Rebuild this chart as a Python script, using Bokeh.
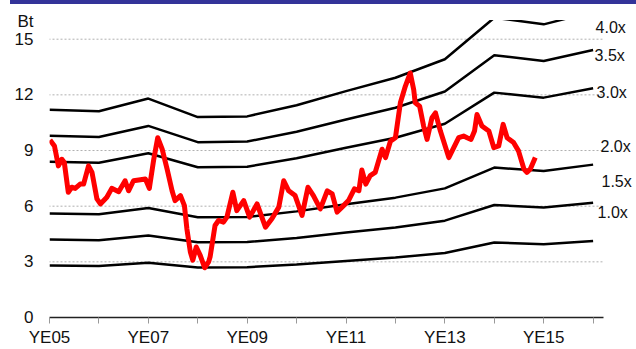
from bokeh.plotting import figure
from bokeh.models import Range1d, FixedTicker, Label, Div
from bokeh.layouts import column
from bokeh.embed import file_html
from bokeh.resources import INLINE

# ---- data ----
years = [2005, 2006, 2007, 2008, 2009, 2010, 2011, 2012, 2013, 2014, 2015, 2016]
bvps = [2.80, 2.78, 2.95, 2.70, 2.71, 2.86, 3.05, 3.23, 3.48, 4.04, 3.95, 4.12]
multiples = [1.0, 1.5, 2.0, 3.0, 3.5, 4.0]
band_labels = ["1.0x", "1.5x", "2.0x", "3.0x", "3.5x", "4.0x"]
band_label_x = [2016.09, 2016.17, 2016.15, 2016.07, 2016.03, 2016.05]
band_label_y = [5.66, 7.33, 9.20, 12.12, 14.14, 15.64]

price_x = [2005.01, 2005.10, 2005.18, 2005.25, 2005.30, 2005.38, 2005.45, 2005.52,
           2005.62, 2005.69, 2005.79, 2005.86, 2005.96, 2006.03, 2006.16, 2006.26,
           2006.40, 2006.53, 2006.60, 2006.70, 2006.84, 2006.94, 2007.02, 2007.11,
           2007.19, 2007.28, 2007.38, 2007.48, 2007.54, 2007.65, 2007.73, 2007.78,
           2007.85, 2007.90, 2007.97, 2008.05, 2008.14, 2008.22, 2008.25, 2008.35,
           2008.42, 2008.52, 2008.59, 2008.71, 2008.79, 2008.93, 2009.05, 2009.20,
           2009.37, 2009.50, 2009.64, 2009.74, 2009.84, 2009.97, 2010.11, 2010.23,
           2010.34, 2010.48, 2010.62, 2010.72, 2010.82, 2010.95, 2011.05, 2011.17,
           2011.26, 2011.32, 2011.40, 2011.49, 2011.59, 2011.73, 2011.80, 2011.90,
           2012.00, 2012.10, 2012.20, 2012.30, 2012.37, 2012.40, 2012.49, 2012.57,
           2012.64, 2012.74, 2012.81, 2012.91, 2013.08, 2013.18, 2013.28, 2013.38,
           2013.45, 2013.53, 2013.60, 2013.65, 2013.75, 2013.89, 2013.99, 2014.09,
           2014.18, 2014.26, 2014.39, 2014.49, 2014.60, 2014.66, 2014.73, 2014.83]
price_y = [9.57, 9.25, 8.17, 8.53, 8.35, 6.75, 7.02, 6.96,
           7.19, 7.19, 8.17, 7.82, 6.39, 6.12, 6.48, 6.96,
           6.78, 7.37, 6.83, 7.37, 7.42, 7.46, 6.96, 8.53,
           9.69, 9.07, 8.00, 6.83, 6.30, 6.57, 6.03, 4.78,
           3.53, 3.09, 3.80, 3.35, 2.68, 3.00, 3.27, 4.96,
           5.23, 5.14, 5.41, 6.75, 5.76, 6.30, 5.41, 6.12,
           4.87, 5.32, 5.95, 7.37, 6.83, 6.57, 5.50, 7.02,
           6.57, 5.85, 6.83, 6.66, 5.68, 6.03, 6.30, 6.93,
           6.83, 7.95, 7.19, 7.65, 7.82, 9.07, 8.62, 9.51,
           9.69, 11.57, 12.46, 13.18, 12.28, 11.57, 11.39, 10.32,
           9.60, 10.77, 11.03, 10.05, 8.62, 9.16, 9.69, 9.78,
           9.69, 9.60, 10.05, 10.94, 10.32, 10.05, 9.16, 9.25,
           10.41, 9.69, 9.43, 8.98, 8.00, 7.82, 8.00, 8.62]

y_ticks = [0, 3, 6, 9, 12, 15]
unit_label = "Bt"
unit_label_y = 15.94
x_ticks = years
x_tick_labels = {2005: "YE05", 2006: "", 2007: "YE07", 2008: "", 2009: "YE09", 2010: "",
                 2011: "YE11", 2012: "", 2013: "YE13", 2014: "", 2015: "YE15", 2016: ""}

# extents (data units)
X_AXIS_START, X_AXIS_END = 2005.0, 2016.21
Y_MAX = 16.03          # top of plotting area (lines are cut here)
X_VIEW = (2005.0, 2016.878)
Y_VIEW = (0.0, 16.87)

FONT = "Liberation Sans"
TXT = "#111111"

p = figure(width=636, height=345, output_backend="svg", toolbar_location=None,
           x_range=Range1d(*X_VIEW), y_range=Range1d(*Y_VIEW),
           min_border_left=49, min_border_right=0, min_border_top=0,
           min_border_bottom=30)
p.outline_line_color = None
p.background_fill_color = "white"
p.border_fill_color = "white"
p.grid.visible = False

# y axis (no line / ticks, just labels; unit label on top)
p.yaxis.ticker = FixedTicker(ticks=y_ticks + [unit_label_y])
p.yaxis.major_label_overrides = {unit_label_y: unit_label}
p.yaxis.axis_line_color = None
p.yaxis.major_tick_line_color = None
p.yaxis.minor_tick_line_color = None
p.yaxis.major_tick_out = 0
p.yaxis.major_tick_in = 0
p.yaxis.major_label_standoff = 16
p.yaxis.major_label_text_font = FONT
p.yaxis.major_label_text_font_size = "17px"
p.yaxis.major_label_text_color = TXT

# x axis
p.xaxis.bounds = (X_AXIS_START, X_AXIS_END)
p.xaxis.ticker = FixedTicker(ticks=x_ticks)
p.xaxis.major_label_overrides = x_tick_labels
p.xaxis.axis_line_color = "#222222"
p.xaxis.axis_line_width = 1.5
p.xaxis.major_tick_line_color = "#999999"
p.xaxis.major_tick_out = 6
p.xaxis.major_tick_in = 0
p.xaxis.minor_tick_line_color = None
p.xaxis.major_label_standoff = 4
p.xaxis.major_label_text_font = FONT
p.xaxis.major_label_text_font_size = "17px"
p.xaxis.major_label_text_color = TXT

# horizontal dashed gridlines
gy = [t for t in y_ticks if t > 0]
p.segment(x0=[X_AXIS_START - 0.02] * len(gy), x1=[X_AXIS_END - 0.02] * len(gy), y0=gy, y1=gy,
          line_color="#b0b0b0", line_dash="2 2", line_width=1)

# P/BV band lines
for m in multiples:
    p.line([float(y) for y in years], [m * b for b in bvps], line_color="black", line_width=2.5)

# cut the lines at the top of the plotting area
p.quad(left=[X_VIEW[0]], right=[X_VIEW[1]], bottom=[Y_MAX], top=[Y_VIEW[1]],
       fill_color="white", line_color=None)

# price line
p.line(price_x, price_y, line_color="#ff0000", line_width=5, line_join="round")

# band labels
for t, lx, ly in zip(band_labels, band_label_x, band_label_y):
    p.add_layout(Label(x=lx, y=ly, text=t, text_font=FONT, text_font_size="16px",
                       text_baseline="middle", text_align="left", text_color=TXT))

bar = Div(text="", width=626, height=4, margin=(0, 0, 0, 10),
          styles={"background-color": "#333399"})

layout = column(bar, p, spacing=0)
layout.margin = (0, 0, 0, 0)

open("out.html", "w").write(file_html(layout, INLINE))
